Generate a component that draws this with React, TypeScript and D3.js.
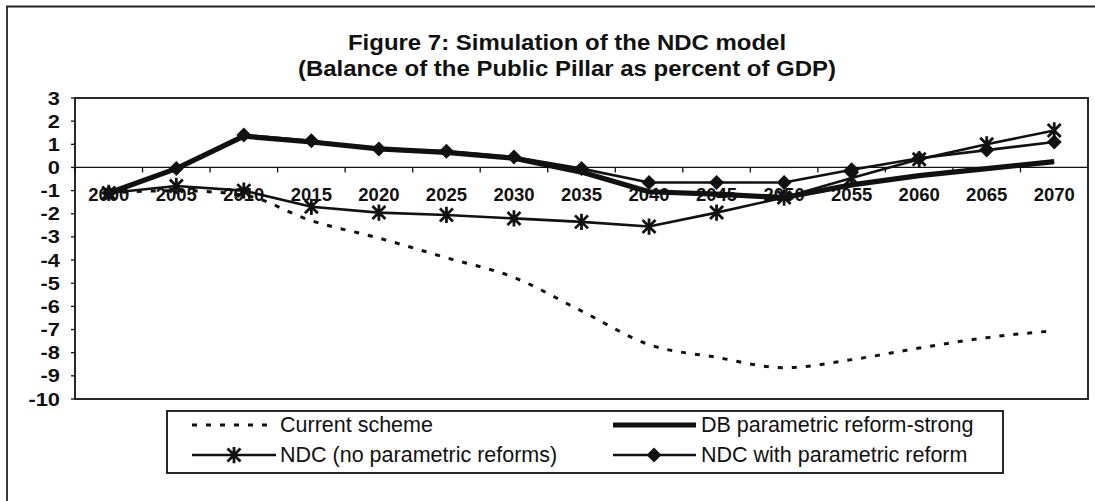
import React from "react";
import * as d3 from "d3";

// years on the category axis
const years = ["2000", "2005", "2010", "2015", "2020", "2025", "2030", "2035", "2040", "2045", "2050", "2055", "2060", "2065", "2070"];

// balance of the public pillar, % of GDP
const currentScheme = [-1.1, -1.0, -1.2, -2.3, -3.05, -3.9, -4.75, -6.2, -7.65, -8.2, -8.65, -8.3, -7.8, -7.35, -7.05];
const dbStrong = [-1.1, -0.05, 1.35, 1.1, 0.8, 0.65, 0.4, -0.2, -1.05, -1.15, -1.3, -0.75, -0.35, -0.05, 0.25];
const ndcNoReform = [-1.1, -0.8, -1.0, -1.7, -1.95, -2.05, -2.2, -2.35, -2.55, -1.95, -1.3, -0.45, 0.35, 1.0, 1.6];
const ndcReform = [-1.1, -0.05, 1.4, 1.15, 0.8, 0.7, 0.45, -0.05, -0.65, -0.65, -0.65, -0.1, 0.4, 0.75, 1.1];

const yTicks = [3, 2, 1, 0, -1, -2, -3, -4, -5, -6, -7, -8, -9, -10];
const titleLines = ["Figure 7: Simulation of the NDC model", "(Balance of the Public Pillar as percent of GDP)"];
const legendNames = ["Current scheme", "DB parametric reform-strong", "NDC (no parametric reforms)", "NDC with parametric reform"];

const W = 1095;
const H = 501;
const FONT = "'Liberation Sans', Arial, sans-serif";

const plot = { left: 75, right: 1088, top: 98, bottom: 399 };

const starPath = (s: number) =>
  `M${-s},${-s}L${s},${s}M${-s},${s}L${s},${-s}M0,${-s * 1.25}L0,${s * 1.25}`;
const diamondPath = (s: number) => `M0,${-s}L${s},0L0,${s}L${-s},0Z`;

// scanned text looks horizontally stretched
const T = ({ x, y, sx = 1, children, ...rest }: any) => (
  <text transform={`translate(${x},${y}) scale(${sx},1)`} fontFamily={FONT} fill="#111" {...rest}>
    {children}
  </text>
);

export default function App() {
  const x = d3.scaleBand().domain(years).range([plot.left, plot.right]);
  const cx = (i: number) => (x(years[i]) as number) + x.bandwidth() / 2;
  const y = d3.scaleLinear().domain([-10, 3]).range([plot.bottom, plot.top]);

  const line = d3
    .line<number>()
    .x((_, i) => cx(i))
    .y((d) => y(d));
  const smooth = line.curve(d3.curveMonotoneX);
  const dashedPath = smooth(currentScheme) as string;
  line.curve(d3.curveLinear);

  const y0 = y(0);

  return (
    <svg width={W} height={H} style={{ position: "absolute", left: 0, top: 0, background: "#fff" }}>
      {/* outer frame, runs off the page right and bottom */}
      <path d={`M7,${H + 5}L7,6.5L${W + 5},6.5`} fill="none" stroke="#222" strokeWidth={1.8} />

      {titleLines.map((t, i) => (
        <T key={t} x={567} y={50 + i * 26} sx={1.09} textAnchor="middle" fontSize={22} fontWeight="bold">
          {t}
        </T>
      ))}

      {/* plot area */}
      <rect x={plot.left} y={plot.top} width={plot.right - plot.left} height={plot.bottom - plot.top} fill="none" stroke="#111" strokeWidth={1.8} />

      {/* y axis ticks + labels */}
      {yTicks.map((t) => (
        <g key={t}>
          <line x1={plot.left - 4} x2={plot.left} y1={y(t)} y2={y(t)} stroke="#111" strokeWidth={1.3} />
          <T x={60} y={y(t) + 6.5} sx={1.15} textAnchor="end" fontSize={19} fontWeight="bold">
            {t}
          </T>
        </g>
      ))}

      {/* zero line with category ticks */}
      <line x1={plot.left} x2={plot.right} y1={y0} y2={y0} stroke="#111" strokeWidth={1.3} />
      {years.map((yr) => (
        <line key={yr} x1={x(yr)} x2={x(yr)} y1={y0} y2={y0 + 5} stroke="#111" strokeWidth={1.3} />
      ))}
      {years.map((yr, i) => (
        <T key={yr} x={cx(i)} y={201} textAnchor="middle" fontSize={18.5} fontWeight="bold">
          {yr}
        </T>
      ))}

      {/* series */}
      <path d={dashedPath} fill="none" stroke="#111" strokeWidth={3} strokeDasharray="5,9" />
      <path d={line(dbStrong) as string} fill="none" stroke="#111" strokeWidth={5.2} strokeLinejoin="round" />
      <path d={line(ndcReform) as string} fill="none" stroke="#111" strokeWidth={2.6} />
      <path d={line(ndcNoReform) as string} fill="none" stroke="#111" strokeWidth={2.6} />
      {ndcReform.map((v, i) => (
        <path key={"d" + i} d={diamondPath(7.5)} transform={`translate(${cx(i)},${y(v)})`} fill="#111" />
      ))}
      {ndcNoReform.map((v, i) => (
        <path key={"s" + i} d={starPath(6.5)} transform={`translate(${cx(i)},${y(v)})`} fill="none" stroke="#111" strokeWidth={2.8} />
      ))}

      {/* legend */}
      <rect x={167} y={411} width={836} height={62} fill="#fff" stroke="#111" strokeWidth={1.8} />
      <line x1={192} x2={276} y1={425} y2={425} stroke="#111" strokeWidth={3} strokeDasharray="5,9" />
      <T x={280} y={432} fontSize={21.5}>{legendNames[0]}</T>
      <line x1={613} x2={696} y1={425} y2={425} stroke="#111" strokeWidth={5.2} />
      <T x={701} y={432} fontSize={21.5}>{legendNames[1]}</T>
      <line x1={192} x2={276} y1={455} y2={455} stroke="#111" strokeWidth={2.6} />
      <path d={starPath(6.5)} transform="translate(234,455)" fill="none" stroke="#111" strokeWidth={2.8} />
      <T x={280} y={462} fontSize={21.5}>{legendNames[2]}</T>
      <line x1={613} x2={696} y1={455} y2={455} stroke="#111" strokeWidth={2.6} />
      <path d={diamondPath(7.5)} transform="translate(654,455)" fill="#111" />
      <T x={701} y={462} fontSize={21.5}>{legendNames[3]}</T>
    </svg>
  );
}
